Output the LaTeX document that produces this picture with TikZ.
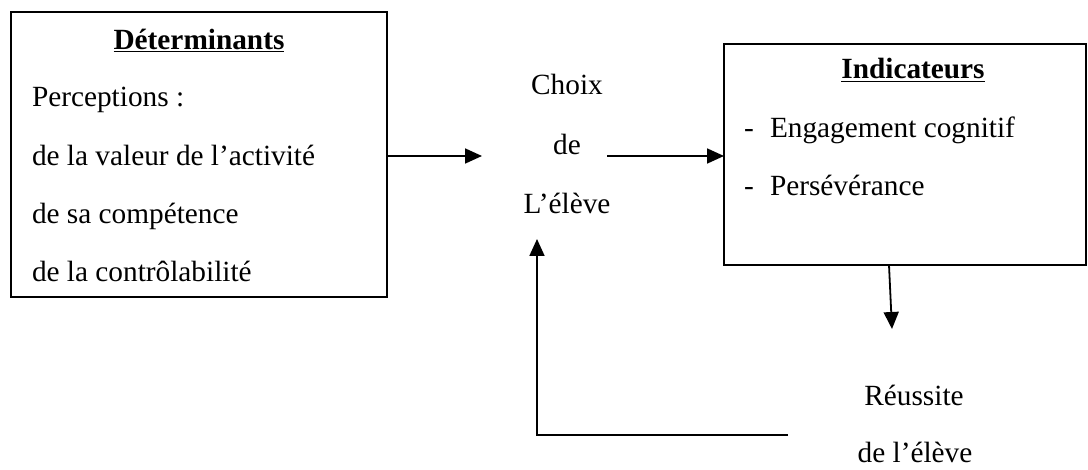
\documentclass[tikz,border=0pt]{standalone}
\usepackage{fontspec}
\setmainfont{Liberation Serif}
\usetikzlibrary{arrows.meta}
\begin{document}
\begin{tikzpicture}[x=1pt,y=-1pt,
  every node/.style={font=\fontsize{29.3}{35}\selectfont, inner sep=0pt, outer sep=0pt},
  framebox/.style={draw, line width=1.8pt, rectangle},
  txt/.style={anchor=base west},
  ctxt/.style={anchor=base},
  arr/.style={line width=1.8pt, -{Triangle[length=17pt,width=15pt]}}]
\useasboundingbox (0,0) rectangle (1088,470);

% Determinants box
\node[framebox, minimum width=376pt, minimum height=285pt] (det) at (199,154.5) {};
\node[ctxt] (dettitle) at (199,50) {\textbf{\underline{Déterminants}}};
\node[txt] (perc) at (32,107) {Perceptions :};
\node[txt] (val) at (32,166) {de la valeur de l’activité};
\node[txt] (comp) at (32,224) {de sa compétence};
\node[txt] (ctrl) at (32,282) {de la contrôlabilité};

% Choice of the pupil
\node[ctxt] (choix) at (567,95) {Choix};
\node[ctxt] (choixde) at (567,155) {de};
\node[ctxt] (eleve) at (567,214) {L’élève};

% Indicators box
\node[framebox, minimum width=362pt, minimum height=221pt] (ind) at (905,154.5) {};
\node[ctxt] (indtitle) at (913,79) {\textbf{\underline{Indicateurs}}};
\node[ctxt] (dash1) at (749,138) {-};
\node[txt] (eng) at (770,138) {Engagement cognitif};
\node[ctxt] (dash2) at (749,196) {-};
\node[txt] (pers) at (770,196) {Persévérance};

% Success of the pupil
\node[ctxt] (reus) at (914,406) {Réussite};
\node[ctxt] (reusde) at (915,463) {de l’élève};

% Free ends of the connectors
\coordinate (cin) at (482,156);
\coordinate (cout) at (607,156);
\coordinate (rin) at (892,329);
\coordinate (rtop) at (889,265);
\coordinate (rout) at (788,435);
\coordinate (cup) at (537,239);

% Connectors
\draw[arr] (det.east |- cin) -- (cin);
\draw[arr] (cout) -- (ind.west |- cout);
\draw[arr] (rtop) -- (rin);
\draw[arr] (rout) -- (rout -| cup) -- (cup);
\end{tikzpicture}
\end{document}
